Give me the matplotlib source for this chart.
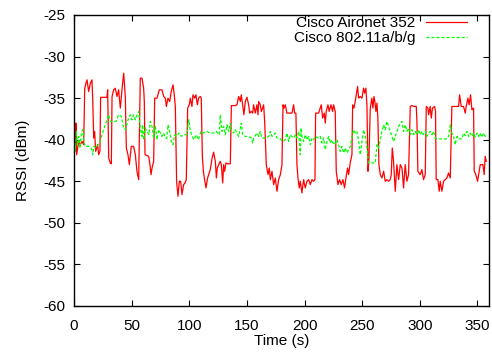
import matplotlib
matplotlib.use("Agg")
import matplotlib.pyplot as plt

# ---- data ----
t_red = [0, 1.2, 1.7, 2.3, 4.1, 5.5, 6.9, 8.4, 9.3, 10.4, 11.3, 12.7, 14.2, 15.6, 16.2,
         17.1, 17.9, 18.8, 19.6, 20.5, 21.4, 22.5, 23.1, 25.7, 28.6, 29.2, 30.1, 31.5, 32.4,
         33.0, 34.4, 35.8, 37.3, 38.7, 40.2, 41.6, 43.1, 44.5, 45.4, 46.8, 48.0, 49.7, 51.7,
         53.2, 54.6, 56.1, 57.5, 59.0, 60.4, 61.0, 61.6, 63.3, 64.8, 65.9, 66.8, 67.7, 69.1,
         70.0, 72.0, 74.0, 76.3, 77.8, 79.2, 80.1, 81.5, 83.0, 84.4, 85.9, 87.0, 87.9, 89.0,
         90.2, 91.4, 92.5, 93.7, 95.1, 96.3, 97.4, 98.6, 100.0, 100.9, 102.3, 103.2, 104.6,
         105.8, 107.0, 108.1, 109.6, 110.4, 111.3, 112.2, 113.3, 114.5, 115.9, 116.8, 118.2,
         119.7, 121.1, 122.6, 123.5, 124.3, 125.5, 126.9, 127.8, 129.0, 129.8, 130.7, 131.8,
         133.6, 135.6, 136.5, 139.9, 141.4, 142.8, 144.3, 145.1, 146.3, 147.4, 148.6, 150.0,
         151.5, 152.4, 153.8, 155.0, 155.8, 157.3, 158.7, 159.6, 160.2, 161.6, 162.5, 163.6,
         164.5, 165.4, 166.8, 168.3, 169.4, 170.3, 171.7, 173.2, 174.6, 176.1, 177.5, 179.0,
         180.4, 181.3, 182.1, 183.3, 184.7, 187.6, 189.1, 190.5, 191.4, 192.5, 193.4, 194.3,
         195.4, 196.3, 197.7, 199.2, 200.6, 202.1, 203.5, 205.0, 206.4, 207.9, 209.0, 209.6,
         212.2, 214.5, 215.7, 217.1, 218.0, 218.8, 220.3, 221.4, 222.9, 224.3, 225.2, 226.6,
         227.5, 229.0, 230.4, 231.8, 233.3, 234.7, 235.9, 237.3, 238.2, 239.6, 241.1, 241.7,
         242.8, 243.7, 244.6, 246.0, 246.9, 248.3, 249.8, 251.2, 252.1, 253.2, 254.1, 255.0,
         255.8, 257.0, 258.4, 259.3, 260.2, 261.0, 261.9, 262.8, 263.6, 264.5, 265.7, 267.1,
         268.6, 270.0, 271.4, 272.9, 274.3, 275.2, 276.1, 277.2, 278.7, 280.1, 281.6, 283.0,
         284.5, 285.9, 287.3, 288.8, 290.2, 291.7, 293.1, 295.4, 296.9, 297.5, 298.3, 300.3,
         301.8, 303.2, 304.7, 305.6, 307.0, 307.6, 309.0, 309.9, 311.0, 312.8, 313.6, 314.2,
         315.7, 316.8, 317.7, 319.1, 320.6, 322.0, 323.5, 324.9, 326.4, 327.8, 330.7, 333.6,
         334.5, 335.9, 337.9, 339.4, 340.2, 341.7, 342.8, 344.0, 345.2, 346.6, 347.2, 348.6,
         350.1, 351.5, 352.4, 353.8, 354.7, 355.8, 356.7, 357.6]
rssi_red = [-40.2, -40.6, -38.0, -41.8, -40.2, -40.6, -40.2, -40.6, -33.8, -33.2, -32.8, -34.2,
            -33.2, -32.8, -35.0, -39.8, -39.0, -41.4, -41.0, -40.6, -41.8, -41.4, -34.9, -34.9,
            -34.9, -34.0, -42.2, -42.8, -42.9, -34.8, -34.0, -33.8, -34.8, -34.0, -36.2, -34.0,
            -32.0, -34.8, -41.0, -41.8, -43.0, -40.8, -40.8, -41.8, -43.8, -44.8, -32.6, -32.6,
            -33.8, -35.4, -41.8, -41.9, -42.0, -43.0, -44.2, -43.4, -42.6, -35.0, -35.0, -34.0,
            -34.0, -34.8, -35.0, -36.0, -35.0, -35.4, -34.2, -33.4, -34.6, -36.0, -45.0, -46.8,
            -45.0, -45.0, -46.6, -45.4, -45.2, -44.8, -36.2, -35.8, -35.0, -36.0, -34.6, -35.0,
            -34.6, -35.8, -35.0, -34.8, -35.0, -41.8, -43.8, -44.8, -45.8, -44.6, -44.2, -43.6,
            -42.3, -41.5, -42.6, -44.6, -43.4, -43.0, -42.6, -43.0, -45.2, -43.0, -43.8, -42.8,
            -42.9, -42.9, -35.9, -35.9, -35.8, -34.8, -35.4, -34.6, -35.8, -37.0, -35.4, -34.9,
            -35.8, -36.8, -36.6, -36.8, -35.8, -36.8, -35.8, -37.0, -35.4, -35.8, -36.6, -36.2,
            -35.8, -37.8, -43.0, -44.2, -43.4, -44.8, -43.8, -45.4, -44.6, -46.2, -44.8, -44.2,
            -43.0, -35.8, -36.2, -35.8, -36.8, -36.8, -36.8, -35.8, -36.8, -36.8, -43.0, -44.6,
            -45.8, -45.0, -46.4, -44.8, -45.8, -45.0, -44.8, -45.4, -44.8, -45.0, -44.8, -36.8,
            -36.8, -35.8, -37.4, -36.8, -38.0, -36.6, -35.8, -36.6, -35.8, -36.6, -35.8, -36.6,
            -43.8, -45.4, -44.8, -45.4, -44.8, -45.8, -44.6, -43.4, -44.2, -42.8, -41.8, -35.8,
            -36.2, -35.6, -34.8, -33.6, -35.0, -34.8, -35.0, -33.8, -34.4, -33.8, -35.8, -43.8,
            -42.6, -36.2, -35.0, -36.2, -34.8, -35.4, -36.6, -35.6, -37.4, -43.0, -44.2, -44.6,
            -43.8, -45.0, -44.8, -45.0, -44.8, -44.2, -41.0, -42.6, -46.2, -43.0, -44.8, -43.0,
            -43.4, -45.8, -43.0, -45.0, -44.2, -36.0, -35.9, -36.0, -36.0, -37.8, -43.8, -44.2,
            -43.6, -44.8, -44.2, -36.0, -36.2, -37.0, -36.0, -37.4, -36.2, -36.0, -36.6, -44.8,
            -44.8, -46.2, -45.0, -46.2, -45.0, -44.8, -44.6, -44.0, -44.6, -36.0, -36.0, -36.0,
            -34.6, -36.0, -36.0, -36.8, -36.0, -35.0, -35.8, -34.6, -36.4, -36.2, -43.8, -44.2,
            -45.0, -43.8, -43.0, -43.0, -43.0, -44.2, -42.0, -42.6]

t_green = [0, 1.2, 2.0, 3.2, 4.1, 5.2, 6.4, 7.5, 8.7, 9.8, 12.7, 15.0, 16.2, 17.3, 19.1, 20.8,
           22.8, 24.3, 25.7, 27.2, 28.6, 30.1, 31.5, 34.4, 36.4, 38.7, 41.0, 43.1, 44.5, 46.0,
           47.4, 48.8, 50.3, 51.7, 53.2, 54.6, 56.1, 57.5, 59.0, 59.5, 60.5, 61.8, 63.3, 65.0,
           66.2, 67.7, 69.1, 70.5, 72.0, 73.4, 75.0, 76.3, 77.8, 79.2, 80.5, 81.6, 83.0, 84.4,
           85.9, 87.3, 89.0, 91.0, 93.0, 95.0, 98.0, 99.5, 101.0, 102.5, 104.0, 106.0, 108.0,
           110.0, 112.0, 115.0, 118.0, 121.0, 123.5, 126.0, 126.9, 128.4, 129.8, 131.3, 132.7,
           134.2, 135.6, 137.0, 138.5, 139.9, 141.4, 142.8, 144.3, 145.1, 146.3, 148.6, 151.5,
           153.8, 155.0, 156.0, 158.7, 160.2, 161.6, 163.0, 166.0, 168.8, 170.3, 171.7, 174.6,
           176.0, 179.0, 181.3, 183.3, 184.7, 186.2, 187.6, 189.1, 190.5, 192.0, 193.4, 194.9,
           196.3, 196.9, 197.7, 199.2, 200.6, 202.1, 203.5, 205.0, 206.4, 207.9, 209.3, 212.2,
           213.6, 215.1, 216.5, 218.0, 219.4, 220.9, 222.3, 223.7, 225.2, 226.6, 228.1, 229.5,
           231.0, 232.4, 233.9, 235.3, 236.8, 238.2, 239.6, 241.1, 242.5, 244.0, 245.4, 246.9,
           248.3, 249.8, 251.2, 252.7, 254.1, 255.6, 261.3, 262.8, 264.2, 265.7, 267.1, 268.6,
           270.0, 271.4, 272.9, 274.3, 275.8, 277.2, 278.7, 280.1, 281.6, 283.0, 284.5, 285.9,
           287.3, 288.8, 290.2, 291.7, 293.1, 294.6, 296.0, 297.5, 298.9, 300.3, 301.8, 303.2,
           304.7, 306.1, 307.6, 309.0, 310.5, 311.9, 313.4, 314.8, 319.1, 323.5, 324.9, 326.4,
           327.8, 329.3, 330.7, 332.2, 333.6, 336.5, 337.9, 339.4, 340.8, 342.3, 343.7, 345.2,
           346.6, 348.0, 349.5, 350.9, 352.4, 353.8, 355.3, 356.7, 358.5]
rssi_green = [-39.6, -41.4, -39.0, -40.6, -39.6, -41.0, -39.2, -38.8, -40.4, -40.8, -40.8, -41.0,
              -41.8, -40.8, -41.0, -40.6, -40.2, -39.4, -38.8, -38.2, -37.6, -37.0, -37.8, -37.8,
              -37.8, -37.0, -37.2, -38.6, -38.8, -38.0, -37.4, -37.0, -37.6, -37.0, -37.6, -37.0,
              -36.6, -38.6, -39.6, -38.2, -40.0, -38.6, -39.0, -39.4, -37.8, -38.4, -39.8, -38.4,
              -40.0, -38.8, -39.2, -39.6, -39.2, -39.8, -39.8, -38.2, -39.0, -40.2, -40.6, -39.4,
              -39.6, -39.2, -39.6, -39.4, -39.4, -37.6, -39.0, -39.6, -40.0, -39.4, -40.0, -39.0,
              -39.2, -39.0, -39.2, -39.2, -39.0, -39.4, -37.0, -39.0, -38.4, -39.4, -38.2, -39.0,
              -38.0, -39.0, -39.2, -38.8, -39.2, -39.6, -38.6, -38.0, -39.4, -39.6, -39.6, -39.8,
              -40.4, -39.8, -39.2, -39.6, -39.0, -39.8, -39.8, -39.6, -39.0, -39.6, -39.2, -39.8,
              -39.9, -40.2, -40.0, -39.2, -40.2, -39.4, -39.6, -39.8, -39.4, -39.8, -39.0, -41.8,
              -38.6, -39.6, -40.2, -39.4, -40.0, -39.6, -40.6, -39.8, -40.0, -39.6, -39.8, -39.6,
              -40.4, -39.8, -41.2, -40.2, -39.6, -40.4, -40.0, -40.6, -40.4, -40.0, -40.6, -41.4,
              -40.8, -41.6, -41.0, -41.6, -41.2, -40.8, -39.8, -38.8, -39.2, -39.0, -40.2, -41.8,
              -40.2, -38.8, -39.6, -41.0, -42.8, -42.8, -40.6, -41.0, -40.0, -39.0, -38.2, -38.8,
              -37.8, -38.4, -39.0, -39.6, -40.2, -39.6, -39.0, -38.4, -38.0, -37.8, -39.0, -38.2,
              -39.0, -38.6, -39.4, -38.8, -39.4, -39.0, -39.4, -38.8, -39.4, -39.0, -39.4, -39.0,
              -39.6, -39.2, -39.0, -39.4, -39.0, -39.8, -39.9, -39.9, -39.9, -39.6, -38.2, -39.2,
              -39.6, -40.6, -39.6, -39.9, -39.9, -39.2, -39.5, -39.0, -39.6, -39.2, -39.6, -39.2,
              -39.7, -39.2, -39.6, -39.2, -39.7, -39.2, -39.6, -39.4]

label_red = "Cisco Aironet 352"
label_green = "Cisco 802.11a/b/g"
xticks = [0, 50, 100, 150, 200, 250, 300, 350]
yticks = [-60, -55, -50, -45, -40, -35, -30, -25]

plt.rcParams['font.family'] = ['Liberation Sans', 'DejaVu Sans']
plt.rcParams['font.size'] = 11
plt.rcParams['axes.unicode_minus'] = False

fig = plt.figure(figsize=(4.92, 3.53), dpi=100)
ax = fig.add_axes([74 / 492, 47 / 353, 415 / 492, 291 / 353])

ax.plot(t_red, rssi_red, color='#ff0000', lw=0.9, label=label_red)
ax.plot(t_green, rssi_green, color='#00ff00', lw=0.9, dashes=(2.5, 1.5), label=label_green)

ax.set_xlim(0, 360)
ax.set_ylim(-60, -25)
ax.set_xticks(xticks)
ax.set_yticks(yticks)
ax.tick_params(direction='in', top=True, right=True, length=4, width=0.8)
ax.tick_params(axis='x', pad=9)
ax.tick_params(axis='y', pad=6)
for s in ax.spines.values():
    s.set_linewidth(1.0)
ax.set_xlabel("Time (s)", labelpad=1)
ax.set_ylabel("RSSI (dBm)", labelpad=10)

leg = ax.legend(loc='upper right', frameon=False, markerfirst=False,
                handlelength=2.7, handletextpad=0.7, labelspacing=0.05,
                borderaxespad=0.0, borderpad=0.0, bbox_to_anchor=(0.948, 0.995))

fig.savefig("out.png", dpi=100)
